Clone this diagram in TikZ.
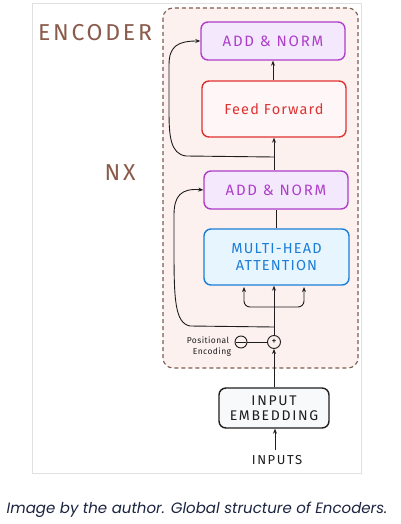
\documentclass[tikz,border=0pt]{standalone}
\usepackage{fontspec}
\setmainfont{Fira Sans}
\newfontfamily\capfont{Poppins}
\newfontfamily\handA[LetterSpace=12]{Fira Sans}
\newfontfamily\handB[LetterSpace=8]{Fira Sans}
\newfontfamily\handC[LetterSpace=5]{Fira Sans}
\usetikzlibrary{arrows.meta,calc}
\definecolor{encfill}{HTML}{FCF1EF}
\definecolor{encline}{HTML}{7D5D52}
\definecolor{enctext}{HTML}{8A5B4B}
\definecolor{anfill}{HTML}{F4E8FD}
\definecolor{anline}{HTML}{AE3EC9}
\definecolor{fffill}{HTML}{FFF7F7}
\definecolor{ffline}{HTML}{E03131}
\definecolor{mhafill}{HTML}{E7F5FF}
\definecolor{mhaline}{HTML}{1C7ED6}
\definecolor{embfill}{HTML}{F8F9FA}
\definecolor{ink}{HTML}{1E1E1E}
\definecolor{captext}{HTML}{1B2440}
\tikzset{
  blk/.style={draw, rounded corners=7pt, line width=1.4pt, align=center, inner sep=0pt},
  anbox/.style={blk, fill=anfill, draw=anline, text=anline, minimum width=144pt, minimum height=38pt, font=\handA\fontsize{15}{17}\selectfont},
  ffbox/.style={blk, fill=fffill, draw=ffline, text=ffline, minimum width=144pt, minimum height=56pt, font=\handB\fontsize{14.5}{16}\selectfont},
  mhabox/.style={blk, fill=mhafill, draw=mhaline, text=mhaline, minimum width=145pt, minimum height=56pt, font=\handB\fontsize{14.5}{17}\selectfont},
  embbox/.style={blk, fill=embfill, draw=ink, text=ink, minimum width=110pt, minimum height=40pt, font=\handA\fontsize{14}{15}\selectfont},
  conn/.style={draw=ink, line width=0.9pt},
  arr/.style={conn, -{Stealth[length=5pt,width=4pt]}},
  circ/.style={circle, draw=ink, line width=0.9pt, minimum size=13pt, inner sep=0pt, fill=encfill},
  bigtxt/.style={text=enctext, font=\handA\fontsize{23}{25}\selectfont},
  small/.style={text=ink, font=\handC\fontsize{8.5}{9}\selectfont},
}
\begin{document}
\begin{tikzpicture}[x=1pt,y=-1pt]
\useasboundingbox (0,0) rectangle (400,524);
\fill[white] (0,0) rectangle (400,524);
% outer frame
\draw[draw=black!12, line width=0.6pt] (32,3) rectangle (361,473);
% encoder box
\draw[fill=encfill, draw=encline, line width=1.1pt, dash pattern=on 4pt off 3pt, rounded corners=10pt] (163,8) rectangle (358,368);
\node[bigtxt] (enc) at (95,33) {ENCODER};
\node[bigtxt] (nx) at (120,173) {NX};
% blocks
\node[anbox] (an1) at (273,41) {ADD \& NORM};
\node[ffbox] (ff) at (274,109) {Feed Forward};
\node[anbox] (an2) at (276,190) {ADD \& NORM};
\node[mhabox] (mha) at (276.5,257) {MULTI-HEAD\\ATTENTION};
\node[circ] (plus) at (274,342) {\fontsize{10}{10}\selectfont +};
\node[circ, minimum size=12pt] (pe) at (241,342) {};
\draw[ink, line width=0.8pt] ($(pe.west)+(1.5,0)$) -- ($(pe.east)+(-1.5,0)$);
\node[small] (pos1) at (208,340) {Positional};
\node[small] (pos2) at (212,352) {Encoding};
\node[embbox] (emb) at (274,408) {INPUT\\EMBEDDING};
\node[text=ink, font=\handA\fontsize{13}{14}\selectfont] (inp) at (277,460) {INPUTS};
\node[text=captext, font=\capfont\itshape\fontsize{15}{17}\selectfont] (cap) at (197,510) {Image by the author. Global structure of Encoders.};
% connectors
\coordinate (inptop) at (275,450);
\draw[arr] (inptop) -- (emb.south -| inptop);
\draw[arr] (emb.north -| plus) -- (plus.south);
\draw[conn] (pe.east) -- (plus.west);
\draw[arr] (plus.north) -- (mha.south -| plus);
\coordinate (bl) at (244,287);
\coordinate (br) at (304,287);
\coordinate (bj) at (274,307);
\draw[arr, rounded corners=6pt] (bj) -| (bl);
\draw[arr, rounded corners=6pt] (bj) -| (br);
\coordinate (r2) at (274,327);
\draw[arr] (r2) -- (190,326) .. controls (175,323) and (174,300) .. (174,250) -- (174,215) .. controls (174,196) and (181,188) .. (an2.west);
\draw[conn] (mha.north -| an2) -- (an2.south);
\draw[arr] (an2.north -| ff) -- (ff.south);
\coordinate (r1) at (274,157);
\draw[arr] (r1) -- (186,156) .. controls (170,154) and (169,135) .. (169,110) -- (169,65) .. controls (169,46) and (178,41) .. (an1.west);
\draw[arr] (ff.north -| an1) -- (an1.south);
\end{tikzpicture}
\end{document}
